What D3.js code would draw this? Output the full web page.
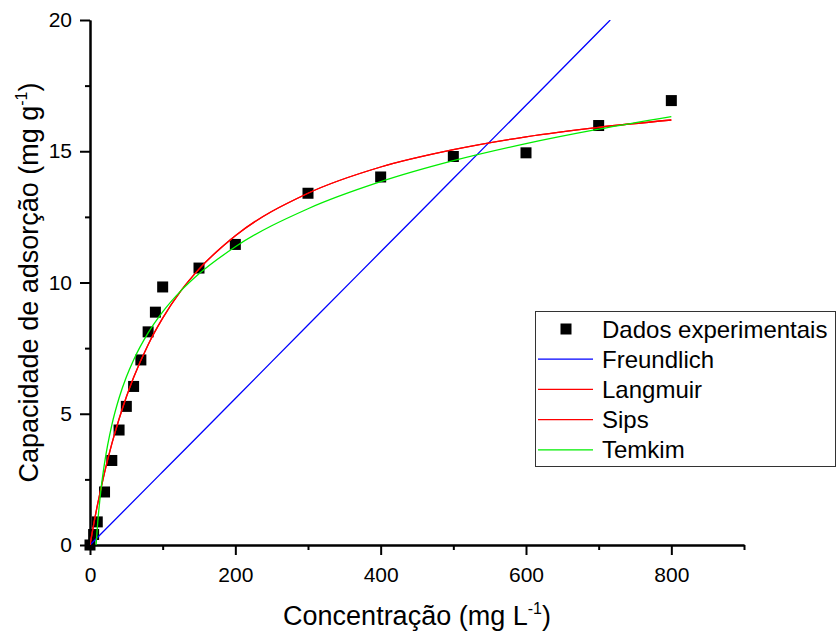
<!DOCTYPE html>
<html>
<head>
<meta charset="utf-8">
<script src="https://cdn.jsdelivr.net/npm/d3@7"></script>
<style>
  body { margin: 0; background: #fff; }
  svg { display: block; font-family: "Liberation Sans", Arial, sans-serif; }
</style>
</head>
<body>
<script>
// experimental points
var expC = [0, 5, 10, 20, 30, 40, 50, 60, 70, 80, 90, 100, 150, 200, 300, 400, 500, 600, 700, 800];
var expQ = [0, 0.4, 0.88, 2.02, 3.22, 4.38, 5.28, 6.04, 7.05, 8.12, 8.87, 9.83, 10.55, 11.45, 13.4, 14.02, 14.8, 14.94, 15.98, 16.93];

// fitted curves
var freC = [0, 100, 200, 300, 400, 500, 600, 700, 716];
var freQ = [0, 2.79, 5.58, 8.38, 11.17, 13.96, 16.75, 19.55, 20];
var lanC = [0, 5, 10, 20, 30, 40, 50, 60, 80, 100, 125, 150, 200, 300, 400, 500, 600, 700, 800];
var lanQ = [0, 0.78, 1.49, 2.76, 3.85, 4.80, 5.64, 6.38, 7.63, 8.64, 9.68, 10.51, 11.78, 13.40, 14.40, 15.06, 15.55, 15.91, 16.19];
var sipC = [0, 5, 10, 20, 30, 40, 50, 60, 80, 100, 125, 150, 200, 300, 400, 500, 600, 700, 800];
var sipQ = [0, 0.78, 1.49, 2.76, 3.85, 4.80, 5.64, 6.38, 7.63, 8.64, 9.68, 10.51, 11.78, 13.40, 14.40, 15.06, 15.55, 15.91, 16.19];
var temC = [8.4, 10, 15, 20, 30, 40, 50, 60, 80, 100, 125, 150, 200, 300, 400, 500, 600, 700, 800];
var temQ = [0, 0.64, 2.09, 3.12, 4.57, 5.60, 6.40, 7.05, 8.08, 8.88, 9.68, 10.33, 11.36, 12.81, 13.84, 14.64, 15.29, 15.84, 16.32];

var xMajor = [0, 200, 400, 600, 800];
var xMinor = [100, 300, 500, 700, 900];
var yMajor = [0, 5, 10, 15, 20];
var yMinor = [2.5, 7.5, 12.5, 17.5];

var legendNames = ["Dados experimentais", "Freundlich", "Langmuir", "Sips", "Temkim"];

var width = 836, height = 633;
var margin = {left: 90, right: 92, top: 20, bottom: 88};

var x = d3.scaleLinear().domain([0, 900]).range([margin.left, width - margin.right]);
var y = d3.scaleLinear().domain([0, 20]).range([height - margin.bottom, margin.top]);

var svg = d3.select("body").append("svg")
    .attr("width", width).attr("height", height);

svg.append("defs").append("clipPath").attr("id", "clip")
  .append("rect")
    .attr("x", x(0)).attr("y", y(20))
    .attr("width", x(900) - x(0)).attr("height", y(0) - y(20));

// axes
function styleAxis(g) {
    g.selectAll("path, line").attr("stroke", "#000").attr("stroke-width", 2);
    g.selectAll("text").attr("fill", "#000").attr("font-size", "21px")
        .attr("font-family", "Liberation Sans, Arial, sans-serif");
}

svg.append("g")
    .attr("transform", "translate(0," + y(0) + ")")
    .call(d3.axisBottom(x).tickValues(xMinor).tickSize(5).tickSizeOuter(0).tickFormat(""))
    .call(styleAxis);
svg.append("g")
    .attr("transform", "translate(0," + y(0) + ")")
    .call(d3.axisBottom(x).tickValues(xMajor).tickSize(10).tickSizeOuter(0).tickPadding(12))
    .call(styleAxis);

svg.append("g")
    .attr("transform", "translate(" + x(0) + ",0)")
    .call(d3.axisLeft(y).tickValues(yMinor).tickSize(5).tickSizeOuter(0).tickFormat(""))
    .call(styleAxis);
svg.append("g")
    .attr("transform", "translate(" + x(0) + ",0)")
    .call(d3.axisLeft(y).tickValues(yMajor).tickSize(10).tickSizeOuter(0).tickPadding(8))
    .call(styleAxis);

// axis titles
var xt = svg.append("text")
    .attr("x", (x(0) + x(900)) / 2).attr("y", 625)
    .attr("text-anchor", "middle").attr("font-size", "27px");
xt.append("tspan").text("Concentração (mg L");
xt.append("tspan").attr("font-size", "16px").attr("dy", -11).text("-1");
xt.append("tspan").attr("dy", 11).text(")");

var yt = svg.append("text")
    .attr("transform", "translate(38," + ((y(0) + y(20)) / 2) + ") rotate(-90)")
    .attr("text-anchor", "middle").attr("font-size", "27px");
yt.append("tspan").text("Capacidade de adsorção (mg g");
yt.append("tspan").attr("font-size", "16px").attr("dy", -11).text("-1");
yt.append("tspan").attr("dy", 11).text(")");

// points
var pts = expC.map(function (c, i) { return [c, expQ[i]]; });
var s = 11;
svg.append("g").selectAll("rect")
    .data(pts).enter().append("rect")
    .attr("x", function (d) { return x(d[0]) - s / 2; })
    .attr("y", function (d) { return y(d[1]) - s / 2; })
    .attr("width", s).attr("height", s)
    .attr("fill", "#000");

// curves
var line = d3.line()
    .x(function (d) { return x(d[0]); })
    .y(function (d) { return y(d[1]); })
    .curve(d3.curveMonotoneX);

var series = [
    {c: freC, q: freQ, color: "#0000ff"},
    {c: lanC, q: lanQ, color: "#ff0000"},
    {c: sipC, q: sipQ, color: "#ff0000"},
    {c: temC, q: temQ, color: "#00ee00"}
];
var curves = svg.append("g").attr("clip-path", "url(#clip)");
series.forEach(function (sr) {
    curves.append("path")
        .datum(sr.c.map(function (c, i) { return [c, sr.q[i]]; }))
        .attr("fill", "none")
        .attr("stroke", sr.color)
        .attr("stroke-width", 1.3)
        .attr("d", line);
});

// legend
var lg = svg.append("g").attr("transform", "translate(535,311)");
lg.append("rect")
    .attr("x", 0.5).attr("y", 0.5).attr("width", 300).attr("height", 155)
    .attr("fill", "#fff").attr("stroke", "#333").attr("stroke-width", 1);
var legendColors = [null, "#0000ff", "#ff0000", "#ff0000", "#00ee00"];
legendNames.forEach(function (name, i) {
    var cy = 18 + i * 30.2;
    if (i === 0) {
        lg.append("rect").attr("x", 31 - 5.5).attr("y", cy - 5.5)
            .attr("width", 11).attr("height", 11).attr("fill", "#000");
    } else {
        lg.append("line").attr("x1", 3).attr("x2", 58)
            .attr("y1", cy).attr("y2", cy)
            .attr("stroke", legendColors[i]).attr("stroke-width", 1.3);
    }
    lg.append("text").attr("x", 67).attr("y", cy).attr("dy", "0.36em")
        .attr("font-size", "24px").attr("fill", "#000").text(name);
});
</script>
</body>
</html>
